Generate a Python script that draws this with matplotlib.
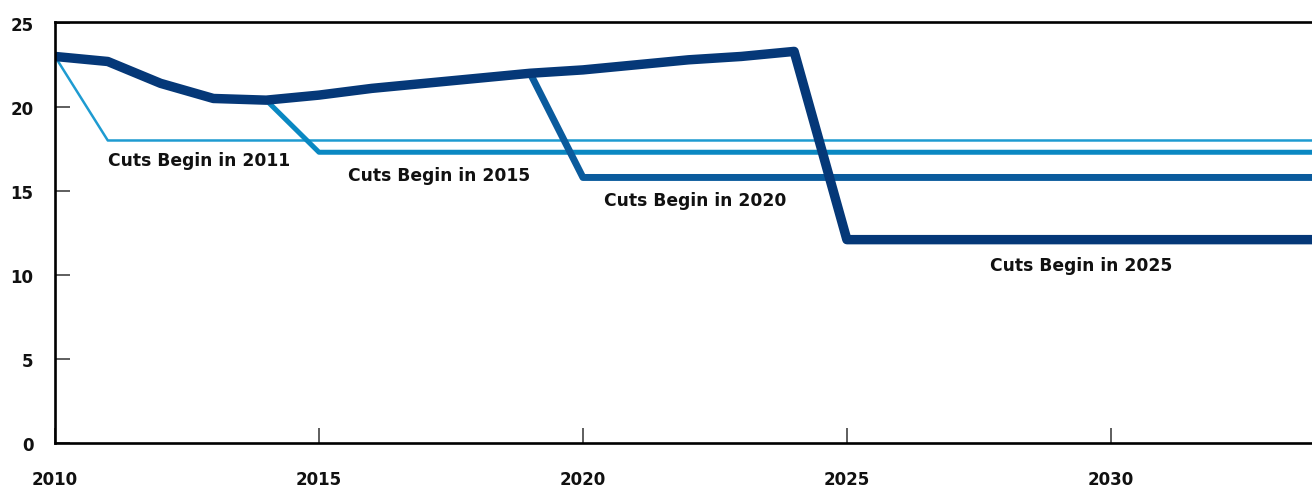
import matplotlib
matplotlib.use("Agg")
import matplotlib.pyplot as plt

years = list(range(2010, 2035))

# Baseline path before any cuts
base = [23.0, 22.7, 21.4, 20.5, 20.4, 20.7, 21.1, 21.4, 21.7, 22.0,
        22.2, 22.5, 22.8, 23.0, 23.3]

cuts_2011 = [23.0] + [18.0] * 24
cuts_2015 = base[:5] + [17.3] * 20
cuts_2020 = base[:10] + [15.8] * 15
cuts_2025 = base[:15] + [12.1] * 10

labels = ["Cuts Begin in 2011", "Cuts Begin in 2015",
          "Cuts Begin in 2020", "Cuts Begin in 2025"]
label_pos = [(2011.0, 16.85), (2015.55, 15.95), (2020.4, 14.45), (2027.72, 10.6)]

x_ticks = [2010, 2015, 2020, 2025, 2030]
y_ticks = [0, 5, 10, 15, 20, 25]

fig = plt.figure(figsize=(13.12, 4.89), dpi=100)
ax = fig.add_axes([55 / 1312, 1 - 444 / 489, 1 - 55 / 1312, (444 - 23) / 489])

series = [
    (cuts_2011, "#1e9bd1", 1.8),
    (cuts_2015, "#0a88c2", 3.6),
    (cuts_2020, "#0a5b9d", 5.0),
    (cuts_2025, "#053878", 6.8),
]
for vals, color, lw in series:
    ax.plot(years, vals, color=color, lw=lw, solid_capstyle="round",
            solid_joinstyle="round")

for text, (x, y) in zip(labels, label_pos):
    ax.text(x, y, text, ha="left", va="center", fontsize=12.3,
            fontweight="bold", color="#111111")

ax.set_xlim(2010, 2033.81)
ax.set_ylim(0, 25.05)
ax.set_xticks(x_ticks)
ax.set_yticks(y_ticks)
ax.set_xticklabels([str(t) for t in x_ticks])
ax.set_yticklabels([str(t) for t in y_ticks])

for side in ["left", "bottom", "top"]:
    ax.spines[side].set_linewidth(1.9)
    ax.spines[side].set_color("black")
ax.spines["right"].set_visible(False)

ax.tick_params(axis="both", direction="in", length=11, width=1.1,
               color="#333333", labelsize=12)
ax.tick_params(axis="x", pad=19.5)
ax.tick_params(axis="y", pad=15.5)
for lab in ax.get_xticklabels() + ax.get_yticklabels():
    lab.set_fontweight("bold")
    lab.set_color("#111111")

fig.savefig("out.png", dpi=100)
